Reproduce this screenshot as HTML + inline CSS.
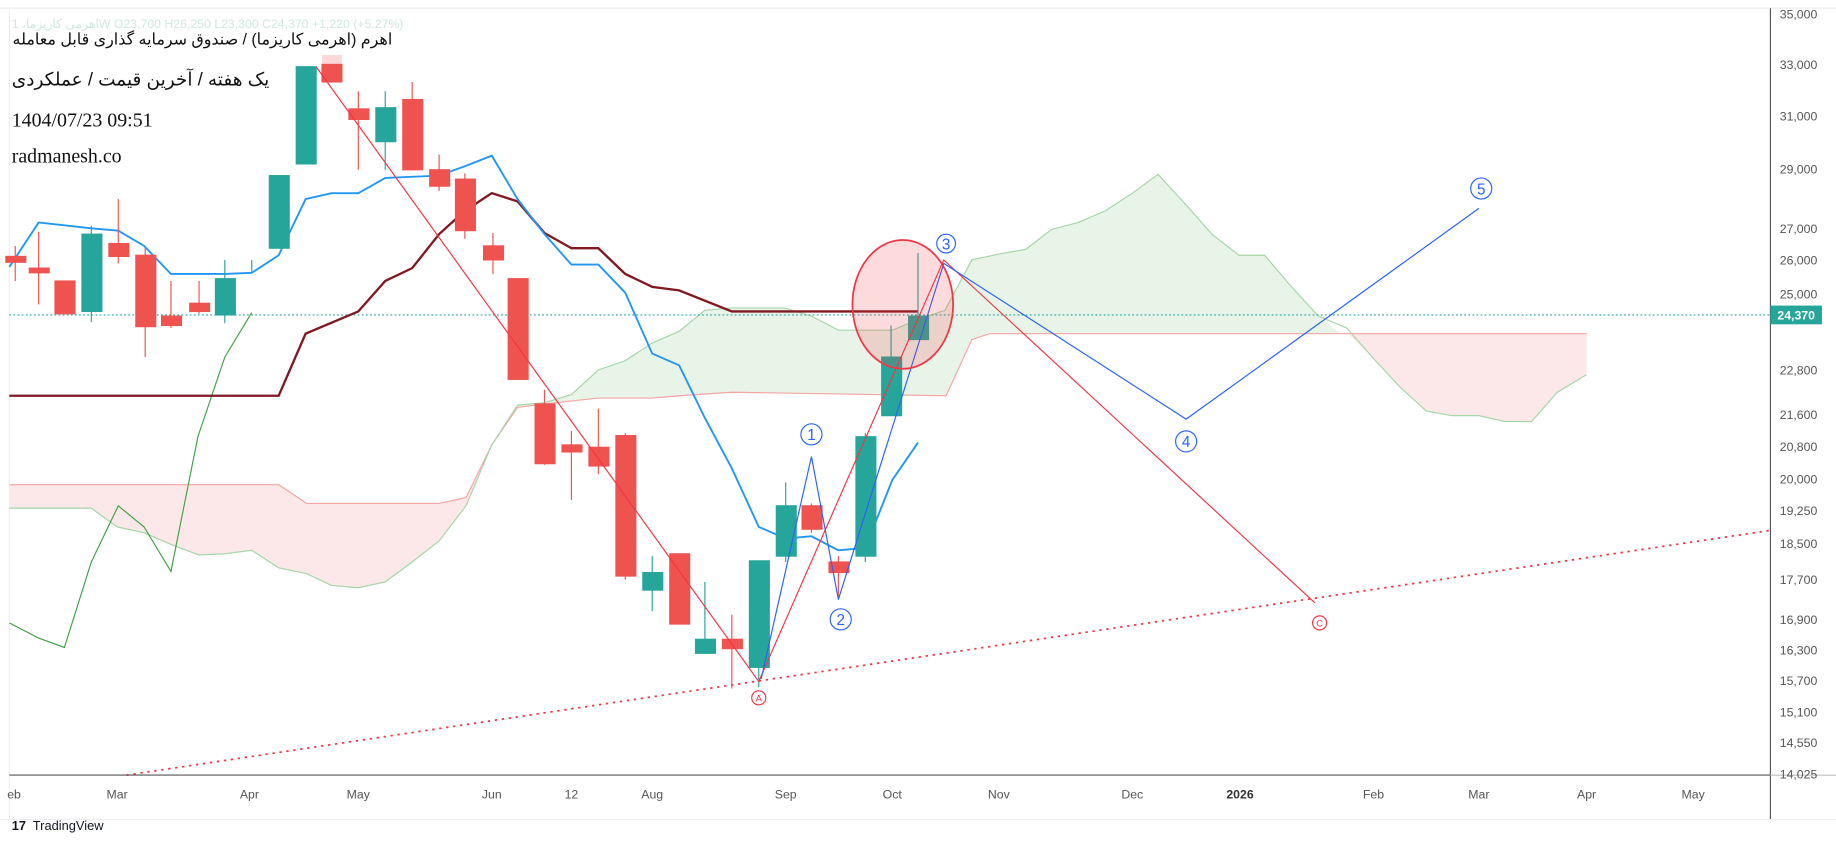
<!DOCTYPE html>
<html><head><meta charset="utf-8"><style>
html,body{margin:0;padding:0;background:#fff;width:1836px;height:843px;overflow:hidden}
svg{display:block}
text{font-family:"Liberation Sans","Noto Sans CJK SC",sans-serif}
text.serif{font-family:"Liberation Serif",serif}
.ax{font-size:10.5px;fill:#555}
</style></head><body>
<svg width="1836" height="843" viewBox="0 0 1568 720" preserveAspectRatio="none">
<rect x="0" y="0" width="1568" height="720" fill="#fff"/>
<line x1="0" y1="7" x2="1568" y2="7" stroke="#eee"/>
<line x1="8" y1="7" x2="8" y2="700" stroke="#eee"/>
<polygon fill="#fce8e8" points="8,414 238,414 262,430 375,430 398,425 420,380 398,432 375,462 352,480 329,497 306,502 283,500 262,490 238,485 215,470 192,473 170,474 146,465 123,455 100,450 78,434 8,434"/>
<polygon fill="#e8f4e8" points="420,380 442,346 465,344 488,337 511,316 534,308 557,293 580,283 602,265 625,263 670,263 693,270 716,282 762,282 784,273 807,265 830,222 853,217 876,213 898,196 921,190 944,180 967,165 989,149 1013,175 1035,200 1058,218 1080,218 1103,245 1126,270 1145,285 845,285 830,290 808,338 625,335 580,338 557,340 511,340 465,345 442,348"/>
<polygon fill="#fce8e8" points="1145,285 1355,285 1355,320 1330,335 1308,360 1285,360 1263,355 1240,355 1218,351 1195,330 1172,305 1150,284"/>
<polyline fill="none" stroke="#f5a5a5" stroke-width="1" points="8,414 238,414 262,430 375,430 398,425 420,380 442,348 465,345 511,340 557,340 580,338 625,335 808,338 830,290 845,285 1355,285"/>
<polyline fill="none" stroke="#a5d6a7" stroke-width="1" points="8,434 78,434 100,450 123,455 146,465 170,474 192,473 215,470 238,485 262,490 283,500 306,502 329,497 352,480 375,462 398,432 420,380 442,346 465,344 488,337 511,316 534,308 557,293 580,283 602,265 625,263 670,263 693,270 716,282 762,282 784,273 807,265 830,222 853,217 876,213 898,196 921,190 944,180 967,165 989,149 1013,175 1035,200 1058,218 1080,218 1103,245 1126,270 1150,280 1172,305 1195,330 1218,351 1240,355 1263,355 1285,360 1308,360 1330,335 1355,320"/>
<line x1="8" y1="269" x2="1512" y2="269" stroke="#26a69a" stroke-dasharray="1.5,2"/>
<line x1="108" y1="662" x2="1512" y2="453" stroke="#f23645" stroke-width="1.5" stroke-dasharray="2,4"/>
<polyline fill="none" stroke="#43a047" stroke-width="1" points="8,532 33,545 55,553 78,480 101,432 123,450 146,488 169,373 192,305 215,267"/>
<polyline fill="none" stroke="#801922" stroke-width="2" points="8,338 238,338 261,285 306,266 329,240 352,229 375,200 397,180 420,165 442,172 465,199 488,212 511,212 534,234 557,245 580,248 625,266 784,266"/>
<polyline fill="none" stroke="#2196f3" stroke-width="1.6" points="8,228 33,190 78,195 101,197 123,210 146,234 192,234 215,233 238,218 261,170 283,165 306,165 329,152 375,150 397,142 420,133 442,170 465,200 488,226 511,226 534,250 557,302 580,312 602,357 625,400 648,450 671,460 693,458 716,470 739,468 762,410 784,378"/>
<g stroke-width="1">
<g fill="#ef5350" stroke="#ef5350">
<line x1="13" y1="210" x2="13" y2="240"/><rect x="5" y="219" width="17" height="5"/>
<line x1="33" y1="198" x2="33" y2="260"/><rect x="25" y="229" width="17" height="4"/>
<rect x="47" y="240" width="17" height="28"/>
<line x1="101" y1="170" x2="101" y2="225"/><rect x="93" y="208" width="17" height="11"/>
<line x1="124" y1="212" x2="124" y2="305"/><rect x="116" y="218" width="17" height="61"/>
<line x1="146" y1="240" x2="146" y2="280"/><rect x="138" y="270" width="17" height="8"/>
<line x1="170" y1="240" x2="170" y2="268"/><rect x="162" y="259" width="17" height="7"/>
<rect x="275" y="47" width="17" height="8" fill="#fdd8d8" stroke="none"/>
<rect x="275" y="55" width="17" height="15"/>
<line x1="306" y1="78" x2="306" y2="145"/><rect x="298" y="93" width="17" height="9"/>
<line x1="352" y1="70" x2="352" y2="145"/><rect x="344" y="85" width="17" height="60"/>
<line x1="375" y1="132" x2="375" y2="163"/><rect x="367" y="145" width="17" height="14"/>
<line x1="397" y1="148" x2="397" y2="204"/><rect x="389" y="153" width="17" height="44"/>
<line x1="421" y1="199" x2="421" y2="234"/><rect x="413" y="210" width="17" height="12"/>
<rect x="434" y="238" width="17" height="86"/>
<line x1="465" y1="333" x2="465" y2="397"/><rect x="457" y="345" width="17" height="51"/>
<line x1="488" y1="368" x2="488" y2="427"/><rect x="480" y="380" width="17" height="6"/>
<line x1="511" y1="349" x2="511" y2="405"/><rect x="503" y="382" width="17" height="16"/>
<line x1="534" y1="370" x2="534" y2="495"/><rect x="526" y="372" width="17" height="120"/>
<rect x="572" y="473" width="17" height="60"/>
<line x1="625" y1="525" x2="625" y2="588"/><rect x="617" y="546" width="17" height="8"/>
<line x1="693" y1="430" x2="693" y2="455"/><rect x="685" y="432" width="17" height="20"/>
<line x1="716" y1="475" x2="716" y2="510"/><rect x="708" y="480" width="17" height="9"/>
</g>
<g fill="#26a69a" stroke="#26a69a">
<line x1="78" y1="193" x2="78" y2="275"/><rect x="70" y="200" width="17" height="66"/>
<line x1="192" y1="222" x2="192" y2="276"/><rect x="184" y="238" width="17" height="31"/>
<line x1="215" y1="222" x2="215" y2="232"/>
<rect x="230" y="150" width="17" height="62"/>
<rect x="253" y="57" width="17" height="83"/>
<line x1="329" y1="78" x2="329" y2="145"/><rect x="321" y="92" width="17" height="29"/>
<line x1="557" y1="475" x2="557" y2="522"/><rect x="549" y="489" width="17" height="15"/>
<line x1="602" y1="497" x2="602" y2="558"/><rect x="594" y="546" width="17" height="12"/>
<line x1="648" y1="479" x2="648" y2="587"/><rect x="640" y="479" width="17" height="91"/>
<line x1="671" y1="412" x2="671" y2="480"/><rect x="663" y="432" width="17" height="43"/>
<line x1="739" y1="370" x2="739" y2="480"/><rect x="731" y="373" width="17" height="102"/>
<line x1="761" y1="278" x2="761" y2="355"/><rect x="753" y="305" width="17" height="50"/>
<line x1="784" y1="216" x2="784" y2="290"/><rect x="776" y="270" width="17" height="20"/>
</g>
</g>
<polyline fill="none" stroke="#f23645" stroke-width="1" points="270,57 648,582 806,222 1123,515"/>
<polyline fill="none" stroke="#2962ff" stroke-width="1" points="650,580 693,390 716,512 806,225 1013,358 1263,178"/>
<ellipse cx="771" cy="260" rx="43" ry="55" fill="rgba(242,54,69,0.18)" stroke="#f23645" stroke-width="1.5"/>
<g fill="none" stroke="#2962ff"><circle cx="693" cy="371" r="9"/><circle cx="718" cy="529" r="9"/><circle cx="808" cy="208" r="8"/><circle cx="1013" cy="377" r="9"/><circle cx="1265" cy="161" r="9"/></g>
<g fill="#2962ff" font-size="13" text-anchor="middle"><text x="693" y="376">1</text><text x="718" y="534">2</text><text x="808" y="213">3</text><text x="1013" y="382">4</text><text x="1265" y="166">5</text></g>
<g fill="none" stroke="#f23645"><circle cx="648" cy="596" r="6"/><circle cx="1127" cy="532" r="6"/></g>
<g fill="#f23645" font-size="8" text-anchor="middle"><text x="648" y="599">A</text><text x="1127" y="535">C</text></g>
<line x1="1512" y1="7" x2="1512" y2="700" stroke="#555"/>
<line x1="8" y1="662" x2="1568" y2="662" stroke="#555"/>
<line x1="1512" y1="662" x2="1568" y2="662" stroke="#ccc"/>
<line x1="0" y1="700" x2="1568" y2="700" stroke="#eee"/>
<g class="ax" text-anchor="middle">
<text x="1536" y="16">35,000</text><text x="1536" y="59">33,000</text><text x="1536" y="103">31,000</text><text x="1536" y="148">29,000</text><text x="1536" y="199">27,000</text><text x="1536" y="226">26,000</text><text x="1536" y="255">25,000</text><text x="1536" y="320">22,800</text><text x="1536" y="358">21,600</text><text x="1536" y="385">20,800</text><text x="1536" y="413">20,000</text><text x="1536" y="440">19,250</text><text x="1536" y="468">18,500</text><text x="1536" y="499">17,700</text><text x="1536" y="533">16,900</text><text x="1536" y="559">16,300</text><text x="1536" y="585">15,700</text><text x="1536" y="612">15,100</text><text x="1536" y="638">14,550</text><text x="1536" y="665">14,025</text>
</g>
<rect x="1512" y="261" width="44" height="16" fill="#26a69a"/>
<text x="1534" y="273" text-anchor="middle" font-size="10.5" font-weight="bold" fill="#fff">24,370</text>
<g class="ax" text-anchor="middle">
<text x="12" y="682">eb</text><text x="100" y="682">Mar</text><text x="213" y="682">Apr</text><text x="306" y="682">May</text><text x="420" y="682">Jun</text><text x="488" y="682">12</text><text x="557" y="682">Aug</text><text x="671" y="682">Sep</text><text x="762" y="682">Oct</text><text x="853" y="682">Nov</text><text x="967" y="682">Dec</text><text x="1059" y="682" font-weight="bold" fill="#333">2026</text><text x="1173" y="682">Feb</text><text x="1263" y="682">Mar</text><text x="1355" y="682">Apr</text><text x="1446" y="682">May</text>
</g>
<text x="10" y="24" font-size="10.5" fill="#cfe8e0">اهرمی کاریزما، 1W  O23,700  H26,250  L23,300  C24,370  +1,220 (+5.27%)</text>
<text x="335" y="38" font-size="13.6" text-anchor="start" fill="#111" direction="rtl">اهرم (اهرمی کاریزما) / صندوق سرمایه گذاری قابل معامله</text>
<text x="230" y="73" font-size="15.8" text-anchor="start" fill="#111" direction="rtl">یک هفته / آخرین قیمت / عملکردی</text>
<text class="serif" x="10" y="108" font-size="17" fill="#111">1404/07/23 09:51</text>
<text class="serif" x="10" y="139" font-size="17" fill="#111">radmanesh.co</text>
<text x="10" y="709" font-size="11" font-weight="bold" fill="#131722">17</text>
<text x="28" y="709" font-size="11" fill="#131722">TradingView</text>
</svg>
</body></html>
